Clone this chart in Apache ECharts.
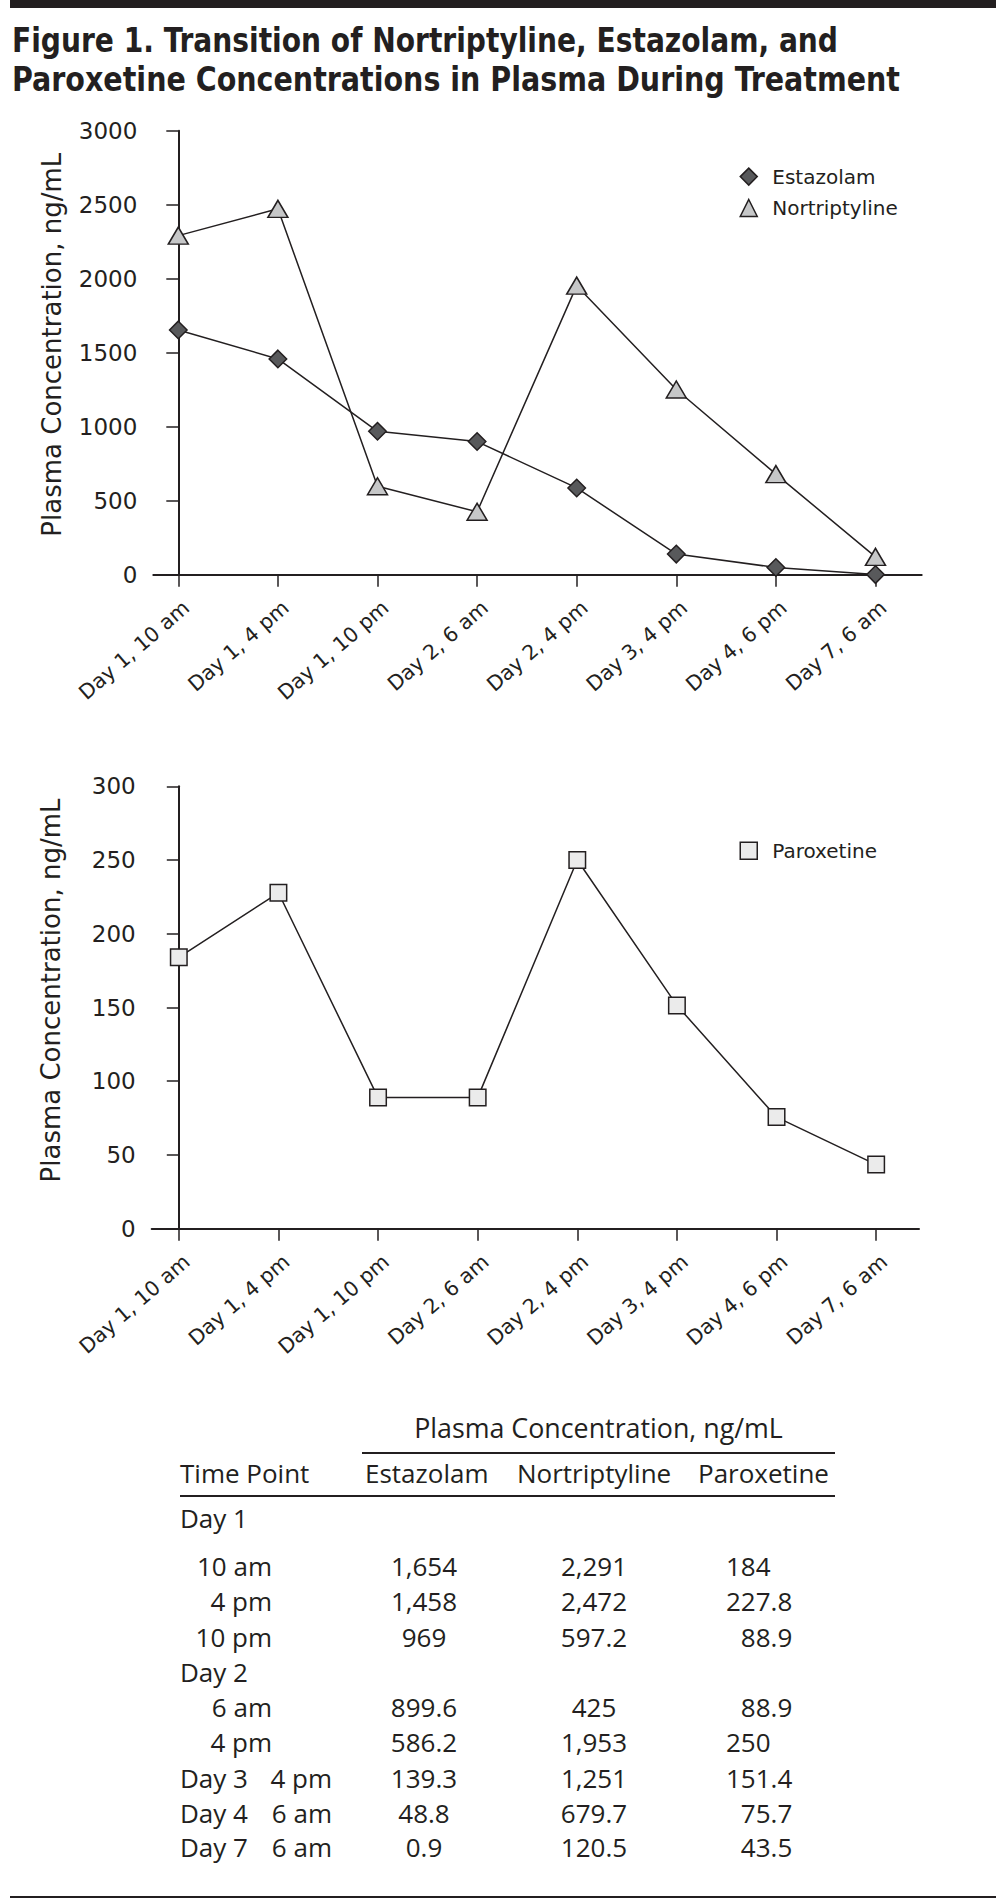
<!DOCTYPE html>
<html>
<head>
<meta charset="utf-8">
<script src="https://cdn.jsdelivr.net/npm/echarts@6/dist/echarts.min.js"></script>
<style>
html,body{margin:0;padding:0;background:#fff;}
#page{position:relative;width:1004px;height:1904px;overflow:hidden;background:#fff;}
.rule{position:absolute;background:#231f20;}
.title{position:absolute;left:12px;font-family:"Liberation Sans Narrow","DejaVu Sans Condensed",sans-serif;font-weight:bold;font-size:34px;line-height:1;color:#231f20;white-space:nowrap;transform-origin:0 0;}
#chart{position:absolute;left:0;top:0;width:1004px;height:1380px;}
.t{position:absolute;font-family:"Open Sans",sans-serif;font-size:26px;line-height:1;color:#231f20;white-space:nowrap;}
</style>
</head>
<body>
<div id="page">
  <div id="chart"></div>
  <div class="rule" style="left:10px;top:0;width:986px;height:8px;"></div>
  <div class="title" id="title1"></div>
  <div class="title" id="title2"></div>
  <div id="table"></div>
  <div class="rule" style="left:10px;top:1896px;width:986px;height:2px;"></div>
</div>
<script>
// ---------------- data ----------------
const titleLines = ['Figure 1. Transition of Nortriptyline, Estazolam, and',
                    'Paroxetine Concentrations in Plasma During Treatment'];
const timeLabels = ['Day 1, 10 am', 'Day 1, 4 pm', 'Day 1, 10 pm', 'Day 2, 6 am',
                    'Day 2, 4 pm', 'Day 3, 4 pm', 'Day 4, 6 pm', 'Day 7, 6 am'];
const estazolam     = [1654, 1458, 969, 899.6, 586.2, 139.3, 48.8, 0.9];
const nortriptyline = [2291, 2472, 597.2, 425, 1953, 1251, 679.7, 120.5];
const paroxetine    = [184, 227.8, 88.9, 88.9, 250, 151.4, 75.7, 43.5];
const yAxisTitle = 'Plasma Concentration, ng/mL';
const yTop1 = {min: 0, max: 3000, interval: 500};
const yTop2 = {min: 0, max: 300, interval: 50};
// table
const tableHeader = 'Plasma Concentration, ng/mL';
const tableColumns = ['Time Point', 'Estazolam', 'Nortriptyline', 'Paroxetine'];
const tableDay  = ['Day 1', 'Day 1', 'Day 1', 'Day 2', 'Day 2', 'Day 3', 'Day 4', 'Day 7'];
const tableTime = ['10 am', '4 pm', '10 pm', '6 am', '4 pm', '4 pm', '6 am', '6 am'];

// ---------------- title ----------------
const ink = '#231f20';
function fitTitle() {
  const targets = [826, 888];
  titleLines.forEach((txt, i) => {
    const el = document.getElementById('title' + (i + 1));
    el.textContent = txt;
    el.style.transform = 'none';
    el.style.top = ([52, 91][i] - 0.846 * 34) + 'px';
    const w = el.getBoundingClientRect().width;
    el.style.transform = 'scaleX(' + (targets[i] / w) + ')';
  });
}
fitTitle();
if (document.fonts && document.fonts.ready) document.fonts.ready.then(fitTitle);

// ---------------- charts ----------------
const F = 'DejaVu Sans';
const idx = timeLabels.map((_, i) => i);
function xAxisCfg(gridIndex, min, max) {
  return {
    type: 'value', gridIndex, min, max,
    axisLine: {show: true, onZero: false, lineStyle: {color: ink, width: 2}},
    axisTick: {show: true, length: 12, lineStyle: {color: ink, width: 1.5}, customValues: idx},
    axisLabel: {rotate: 41, margin: 30, fontFamily: F, fontSize: 20.5, color: ink, hideOverlap: false,
                customValues: idx.map(i => i + 0.08),
                formatter: v => timeLabels[Math.round(v)]},
    splitLine: {show: false}
  };
}
function yAxisCfg(gridIndex, r, shiftUp) {
  return {
    type: 'value', gridIndex, min: r.min, max: r.max, interval: r.interval,
    axisLine: {show: true, lineStyle: {color: ink, width: 2}},
    axisTick: {show: true, length: 12, lineStyle: {color: ink, width: 1.5}},
    axisLabel: {margin: 16, fontFamily: F, fontSize: 23, color: ink, formatter: v => String(v)},
    splitLine: {show: false},
    name: yAxisTitle, nameLocation: 'middle', nameGap: 88, nameMoveOverlap: false,
    nameTextStyle: {fontFamily: F, fontSize: 26, color: ink, padding: [0, 0, 0, shiftUp * 2]}
  };
}
const lineStyle = {color: ink, width: 1.5};
const option = {
  animation: false,
  backgroundColor: 'transparent',
  grid: [
    {left: 153.3, right: 82.3, top: 130.7, bottom: 1380 - 574.7, outerBoundsMode: 'none'},
    {left: 151.7, right: 85, top: 786.3, bottom: 1380 - 1228.7, outerBoundsMode: 'none'}
  ],
  xAxis: [xAxisCfg(0, -0.251, 7.464), xAxisCfg(1, -0.272, 7.43)],
  yAxis: [yAxisCfg(0, yTop1, 8), yAxisCfg(1, yTop2, 17)],
  legend: [
    {orient: 'vertical', left: 739.5, top: 166.6, padding: 0, itemWidth: 17, itemHeight: 17, itemGap: 11.4,
     selectedMode: false,
     data: [{name: 'Estazolam', icon: 'diamond'}, {name: 'Nortriptyline', icon: 'triangle'}],
     itemStyle: {borderWidth: 1.5, borderColor: ink},
     textStyle: {fontFamily: F, fontSize: 20, color: ink, padding: [0, 0, 0, 10]}},
    {orient: 'vertical', left: 739.5, top: 840.8, padding: 0, itemWidth: 17, itemHeight: 17,
     selectedMode: false,
     data: [{name: 'Paroxetine', icon: 'rect'}],
     itemStyle: {borderWidth: 1.5, borderColor: ink},
     textStyle: {fontFamily: F, fontSize: 20, color: ink, padding: [0, 0, 0, 10]}}
  ],
  series: [
    {type: 'line', name: 'Nortriptyline', xAxisIndex: 0, yAxisIndex: 0, clip: false,
     data: nortriptyline.map((v, i) => [i, v]),
     symbol: 'triangle', symbolSize: [20, 17], lineStyle,
     itemStyle: {color: '#c6c7c8', borderColor: ink, borderWidth: 1.5}},
    {type: 'line', name: 'Estazolam', xAxisIndex: 0, yAxisIndex: 0, clip: false,
     data: estazolam.map((v, i) => [i, v]),
     symbol: 'diamond', symbolSize: 17.5, lineStyle,
     itemStyle: {color: '#58595b', borderColor: ink, borderWidth: 1.5}},
    {type: 'line', name: 'Paroxetine', xAxisIndex: 1, yAxisIndex: 1, clip: false,
     data: paroxetine.map((v, i) => [i, v]),
     symbol: 'rect', symbolSize: 16.5, lineStyle,
     itemStyle: {color: '#ebebeb', borderColor: ink, borderWidth: 1.5}}
  ]
};
const chart = echarts.init(document.getElementById('chart'), null, {renderer: 'svg', width: 1004, height: 1380});
chart.setOption(option);

// ---------------- table ----------------
const table = document.getElementById('table');
const FS = 26;
function txt(s, x, baseline, align, size) {
  const d = document.createElement('div');
  d.className = 't';
  d.textContent = s;
  const fs = size || FS;
  d.style.fontSize = fs + 'px';
  d.style.top = (baseline - 0.888 * fs) + 'px';
  if (align === 'center') { d.style.left = x + 'px'; d.style.transform = 'translateX(-50%)'; }
  else if (align === 'right') { d.style.right = (1004 - x) + 'px'; }
  else { d.style.left = x + 'px'; }
  table.appendChild(d);
}
function rule(x1, x2, y, h) {
  const d = document.createElement('div');
  d.className = 'rule';
  d.style.left = x1 + 'px'; d.style.width = (x2 - x1) + 'px';
  d.style.top = (y - h / 2) + 'px'; d.style.height = h + 'px';
  table.appendChild(d);
}
const fmt = v => v.toLocaleString('en-US', {maximumFractionDigits: 1});
txt(tableHeader, 598.5, 1439, 'center', 26.8);
rule(362, 835, 1453, 1.6);
txt(tableColumns[0], 180, 1483, 'left');
txt(tableColumns[1], 365, 1483, 'left');
txt(tableColumns[2], 517, 1483, 'left');
txt(tableColumns[3], 698, 1483, 'left');
rule(180, 835, 1496, 1.6);
const rowBase = [1576, 1611, 1647, 1717, 1752, 1788, 1823, 1857];
const groupBase = {'Day 1': 1528, 'Day 2': 1682};
const counts = {};
tableDay.forEach(d => counts[d] = (counts[d] || 0) + 1);
const shown = {};
tableDay.forEach((d, i) => {
  const y = rowBase[i];
  if (counts[d] > 1) {
    if (!shown[d]) { txt(d, 180, groupBase[d], 'left'); shown[d] = true; }
    txt(tableTime[i], 272, y, 'right');
  } else {
    txt(d, 180, y, 'left');
    txt(tableTime[i], 332, y, 'right');
  }
  txt(fmt(estazolam[i]), 424, y, 'center');
  txt(fmt(nortriptyline[i]), 594, y, 'center');
  const p = paroxetine[i];
  txt((p < 100 ? '\u2007' : '') + fmt(p), 726, y, 'left');
});
</script>
</body>
</html>
